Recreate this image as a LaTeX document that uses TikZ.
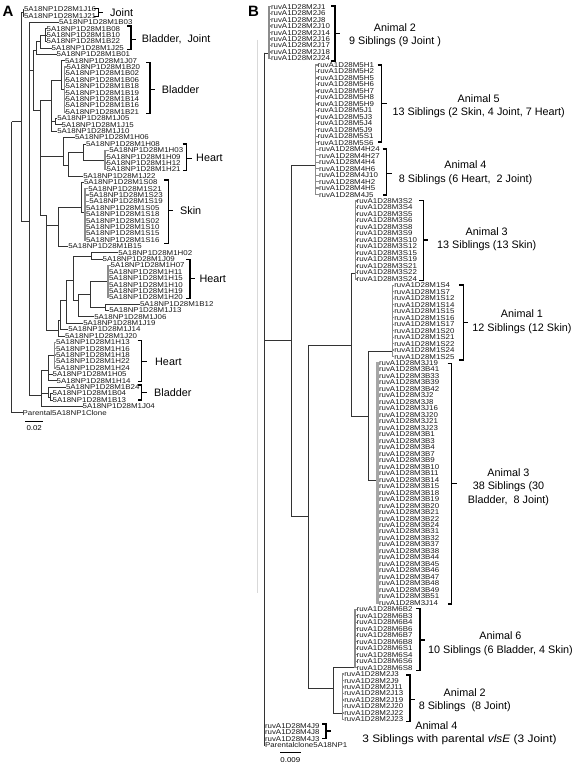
\documentclass[tikz,border=0pt]{standalone}
\usepackage{fontspec}
\setmainfont{Liberation Sans}
\newfontfamily\leaffont[FakeStretch=1.13]{Liberation Sans}
\newcommand\lf{\leaffont\fontsize{7}{7}\selectfont}
\newcommand\af{\fontsize{10.8}{13.4}\selectfont}
\tikzset{
  leaf/.style={anchor=west, inner sep=0pt, outer sep=0pt, font=\lf, text=black!90},
  br/.style={line width=0.6pt, draw=black!80},
  clu/.style={line width=1.3pt, draw=black!45},
  brk/.style={line width=1.2pt, draw=black},
  ann/.style={font=\af, align=center, inner sep=0pt},
  annw/.style={font=\af, anchor=west, inner sep=0pt},
  panel/.style={font=\fontsize{15}{15}\selectfont\bfseries, inner sep=0pt},
  sbar/.style={line width=0.8pt, draw=black},
}
\newcommand\brkt[4]{%
  \draw[brk] ({#1-4},{#2}) -- ({#1},{#2}) -- ({#1},{#3}) -- ({#1-4},{#3});
  \draw[brk] ({#1},{#4}) -- ({#1+5},{#4});
}
\begin{document}
\begin{tikzpicture}[x=1pt,y=-1pt]
\useasboundingbox (0,0) rectangle (577,765);
\fill[white] (0,0) rectangle (577,765);
% faint divider
\coordinate (dv1) at (257.5,40); \coordinate (dv2) at (257.5,593);
\draw[black!15, line width=0.8pt] (dv1) -- (dv2);
% ================= PANEL A =================
\node[panel] (pA) at (8,11.7) {A};
\foreach \i/\xx/\t in {
1/24/J16, 2/24/J21, 3/59/B03, 4/46.7/B08, 5/46.7/B10, 6/46.7/B22, 7/51.7/J25, 8/56.7/B01,
9/65/J07, 10/66.7/B20, 11/65.7/B02, 12/65.7/B06, 13/65.7/B18, 14/65.7/B19, 15/65.7/B14,
16/65.7/B16, 17/65.7/B21, 18/57.3/J05, 19/61.7/J15, 20/57.3/J10, 21/75/H06, 22/86/H08,
23/109.3/H03, 24/106.7/H09, 25/106.7/H12, 26/106.7/H21, 27/83.3/J22, 28/84/S08, 29/88.3/S21,
30/89.3/S23, 31/89.3/S19, 32/86/S05, 33/86/S18, 34/86/S02, 35/86/S10, 36/86/S15, 37/86/S16,
38/68.3/B15, 39/118.3/H02, 40/102.7/J09, 41/110.7/H07, 42/109/H11, 43/109/H15, 44/109/H10,
45/109/H19, 46/109/H20, 47/140/B12, 48/109.3/J13, 49/94.3/J06, 50/83.3/J19, 51/68.3/J14,
52/65/J20, 53/56/H13, 54/56/H16, 55/56/H18, 56/56/H22, 57/56/H24, 58/52.7/H05, 59/56.7/H14,
60/66/B24, 61/52.7/B04, 62/52.7/B13, 63/82.7/J04}
  \node[leaf] (a\i) at (\xx,{9.5+(\i-1)*6.4}) {5A18NP1D28M1\t};
\node[leaf] (a64) at (22.7,412.7) {Parental5A18NP1Clone};
% internal nodes A
\coordinate (RA) at (11.7,121.7);
\coordinate (N1) at (21.7,121.7);
\coordinate (cJ) at (22.8,12.7);
\coordinate (N2) at (29.3,221.7);
\coordinate (P) at (33.3,70);
\coordinate (C) at (36.7,50);
\coordinate (bJ) at (40,41);
\coordinate (aJ) at (45,35);
\coordinate (Q) at (40,110);
\coordinate (E) at (51.7,100);
\coordinate (D) at (61.7,80);
\coordinate (Bc) at (64.5,89);
\coordinate (F) at (55,121.5);
\coordinate (H) at (63.3,156);
\coordinate (Hs) at (68.3,165);
\coordinate (Hi) at (83.3,152);
\coordinate (Hj) at (105,160);
\coordinate (R) at (46.7,215);
\coordinate (Sg) at (58.3,225);
\coordinate (Sk) at (81,207);
\coordinate (Ss) at (85,212);
\coordinate (M3) at (58.3,330);
\coordinate (Hs2) at (60,320);
\coordinate (Ht) at (66.7,300);
\coordinate (Hu) at (73.3,280);
\coordinate (Hx) at (91.7,256);
\coordinate (Hv) at (78.3,300);
\coordinate (Hw) at (90,294);
\coordinate (Hy) at (108,281);
\coordinate (Hz) at (105,307);
\coordinate (Bt) at (41.7,395);
\coordinate (Hb) at (48.3,370);
\coordinate (Hc) at (54.3,355);
\coordinate (Bb) at (48.3,393);
\coordinate (Bd) at (50,397);
\foreach \pa/\ch in {RA/N1, RA/a64.west, N1/cJ, N1/N2, cJ/a1.west, cJ/a2.west,
  N2/a3.west, N2/P, N2/Bt, P/C, P/Q, C/bJ, C/a8.west, bJ/aJ, bJ/a7.west,
  aJ/a4.west, aJ/a5.west, aJ/a6.west, Q/E, Q/H, Q/R, E/D, E/F, E/a20.west,
  D/a9.west, D/Bc, F/a18.west, F/a19.west, H/a21.west, H/Hs, Hs/Hi, Hs/a27.west,
  Hi/a22.west, Hi/Hj, R/Sg, R/M3, Sg/Sk, Sg/a38.west, Sk/a28.west, Sk/Ss,
  M3/Hs2, M3/a52.west, Hs2/Ht, Hs2/a51.west, Ht/Hu, Ht/a50.west, Hu/Hx, Hu/Hv,
  Hx/a39.west, Hx/a40.west, Hv/Hw, Hv/a49.west, Hw/Hy, Hw/Hz, Hz/a47.west, Hz/a48.west,
  Bt/Hb, Bt/Bb, Bt/a63.west, Hb/Hc, Hb/a58.west, Hb/a59.west, Bb/a60.west, Bb/Bd,
  Bd/a61.west, Bd/a62.west}
  \draw[br] (\pa) |- (\ch);
\foreach \i in {10,...,17} \draw[clu] (Bc) |- (a\i.west);
\foreach \i in {23,...,26} \draw[clu] (Hj) |- (a\i.west);
\foreach \i in {29,...,37} \draw[clu] (Ss) |- (a\i.west);
\foreach \i in {41,...,46} \draw[clu] (Hy) |- (a\i.west);
\foreach \i in {53,...,57} \draw[clu] (Hc) |- (a\i.west);
% brackets A
\brkt{98.3}{8.5}{16.5}{12.5}
\brkt{131}{26}{49.3}{39.3}
\brkt{150}{62.7}{113.3}{89.3}
\brkt{186.7}{144}{170.7}{158.3}
\brkt{168.3}{180}{243.3}{210.7}
\brkt{190}{259.3}{298.3}{278.7}
\brkt{141.7}{340.7}{381.7}{361.7}
\brkt{141.7}{385}{400}{392.7}
\node[annw] (tA1) at (110,12.3) {Joint};
\node[annw] (tA2) at (141.7,39.3) {Bladder,\ \ Joint};
\node[annw] (tA3) at (161.7,89.3) {Bladder};
\node[annw] (tA4) at (196,158.3) {Heart};
\node[annw] (tA5) at (180,210.7) {Skin};
\node[annw] (tA6) at (199.3,278.7) {Heart};
\node[annw] (tA7) at (155,361.7) {Heart};
\node[annw] (tA8) at (154,392.7) {Bladder};
% scale A
\coordinate (sA1) at (25,421.3); \coordinate (sA2) at (43.3,421.3);
\draw[sbar] (sA1) -- (sA2);
\node[font=\lf, inner sep=0pt] (sAt) at (34.2,428.3) {0.02};
% ================= PANEL B =================
\node[panel] (pB) at (253.5,11) {B};
\foreach \t [count=\k from 1] in {M2J1,M2J6,M2J8,M2J10,M2J14,M2J16,M2J17,M2J18,M2J24}
  \node[leaf] (b\k) at (271,{6.7+(\k-1)*6.48}) {ruvA1D28\t};
\foreach \t [count=\k from 10] in {M5H1,M5H2,M5H5,M5H6,M5H7,M5H8,M5H9,M5J1,M5J3,M5J4,M5J9,M5S1,M5S6}
  \node[leaf] (b\k) at (317.7,{6.7+(\k-1)*6.48}) {ruvA1D28\t};
\foreach \t [count=\k from 23] in {M4H24,M4H27,M4H4,M4H6,M4J10,M4H2,M4H5,M4J5}
  \node[leaf] (b\k) at (319,{6.7+(\k-1)*6.48}) {ruvA1D28\t};
\foreach \t [count=\k from 31] in {M3S2,M3S4,M3S5,M3S6,M3S8,M3S9,M3S10,M3S12,M3S15,M3S19,M3S21,M3S22,M3S24}
  \node[leaf] (b\k) at (356.7,{6.7+(\k-1)*6.48}) {ruvA1D28\t};
\foreach \t [count=\k from 44] in {M1S4,M1S7,M1S12,M1S14,M1S15,M1S16,M1S17,M1S20,M1S21,M1S22,M1S24,M1S25}
  \node[leaf] (b\k) at (394.3,{6.7+(\k-1)*6.48}) {ruvA1D28\t};
\foreach \t [count=\k from 56] in {M3J19,M3B41,M3B33,M3B39,M3B42,M3J2,M3J8,M3J16,M3J20,M3J21,M3J23,
  M3B1,M3B3,M3B4,M3B7,M3B9,M3B10,M3B11,M3B14,M3B15,M3B18,M3B19,M3B20,M3B21,M3B22,M3B24,
  M3B31,M3B32,M3B37,M3B38,M3B44,M3B45,M3B46,M3B47,M3B48,M3B49,M3B51,M3J14}
  \node[leaf] (b\k) at (379,{6.7+(\k-1)*6.48}) {ruvA1D28\t};
\foreach \t [count=\k from 94] in {M6B2,M6B3,M6B4,M6B6,M6B7,M6B8,M6S1,M6S4,M6S6,M6S8}
  \node[leaf] (b\k) at (356.7,{6.7+(\k-1)*6.48}) {ruvA1D28\t};
\foreach \t [count=\k from 104] in {M2J3,M2J9,M2J11,M2J13,M2J19,M2J20,M2J22,M2J23}
  \node[leaf] (b\k) at (344.3,{6.7+(\k-1)*6.48}) {ruvA1D28\t};
\foreach \t [count=\k from 112] in {M4J9,M4J8,M4J3}
  \node[leaf] (b\k) at (265,{6.7+(\k-1)*6.48}) {ruvA1D28\t};
\node[leaf] (b115) at (265,{6.7+114*6.48}) {Parentalclone5A18NP1};
% internal nodes B
\coordinate (RB) at (264,53);
\coordinate (B2a) at (269,53);
\coordinate (NB1) at (291.7,340);
\coordinate (A54) at (315.5,165);
\coordinate (NB2) at (308.3,516);
\coordinate (NB3) at (351.7,345.7);
\coordinate (A3s) at (355.2,273);
\coordinate (NB4) at (368.3,416.7);
\coordinate (A1) at (392.8,351.7);
\coordinate (A3b) at (377.3,480.7);
\coordinate (NB5) at (333.3,688);
\coordinate (A6) at (355,667);
\coordinate (A2b) at (342.8,713);
\foreach \pa/\ch in {RB/B2a, RB/NB1, RB/b112.west, RB/b113.west, RB/b114.west, RB/b115.west,
  NB1/A54, NB1/NB2, NB2/NB3, NB2/NB5, NB3/A3s, NB3/NB4, NB4/A1, NB4/A3b, NB5/A6, NB5/A2b}
  \draw[br] (\pa) |- (\ch);
\foreach \i in {1,...,9} \draw[clu] (B2a) |- (b\i.west);
\foreach \i in {10,...,30} \draw[clu] (A54) |- (b\i.west);
\foreach \i in {31,...,43} \draw[clu] (A3s) |- (b\i.west);
\foreach \i in {44,...,55} \draw[clu] (A1) |- (b\i.west);
\foreach \i in {56,...,93} \draw[clu, line width=2.4pt, draw=black!35] (A3b) |- (b\i.west);
\foreach \i in {94,...,103} \draw[clu] (A6) |- (b\i.west);
\foreach \i in {104,...,111} \draw[clu] (A2b) |- (b\i.west);
% brackets B
\brkt{335}{6}{61}{33.3}
\brkt{381.7}{65}{142}{103.3}
\brkt{386.7}{149}{195}{173.3}
\brkt{423.3}{200.7}{280.7}{240}
\brkt{463.3}{285}{360}{322.7}
\brkt{451.7}{363.3}{604}{483.3}
\brkt{420}{608.3}{670.7}{640}
\brkt{410}{675}{721.7}{699.3}
\brkt{326}{724}{738.3}{731}
\node[ann] (tB1) at (395,35.5) {Animal 2\\9 Siblings (9 Joint\ )};
\node[ann] (tB2) at (478.7,106) {Animal 5\\13 Siblings (2 Skin, 4 Joint, 7 Heart)};
\node[ann] (tB3) at (465.5,172.7) {Animal 4\\8 Siblings (6 Heart,\ \ 2 Joint)};
\node[ann] (tB4) at (486.7,239) {Animal 3\\13 Siblings (13 Skin)};
\node[ann] (tB5) at (522,321.8) {Animal 1\\12 Siblings (12 Skin)};
\node[ann] (tB6) at (508.5,487) {Animal 3\\38 Siblings (30\\Bladder,\ \ 8 Joint)};
\node[ann] (tB7) at (500.5,643.5) {Animal 6\\10 Siblings (6 Bladder, 4 Skin)};
\node[ann] (tB8) at (464.7,700.2) {Animal 2\\8 Siblings\ \ (8 Joint)};
\node[ann] (tB9) at (436.3,726) {Animal 4};
\node[ann] (tB10) at (459.5,739.3) {\scalebox{1.1}[1]{3 Siblings with parental \textit{vlsE} (3 Joint)}};
% scale B
\coordinate (sB1) at (280,752.7); \coordinate (sB2) at (300.7,752.7);
\draw[sbar] (sB1) -- (sB2);
\node[font=\lf, inner sep=0pt] (sBt) at (290.3,759.6) {0.009};
\end{tikzpicture}
\end{document}
